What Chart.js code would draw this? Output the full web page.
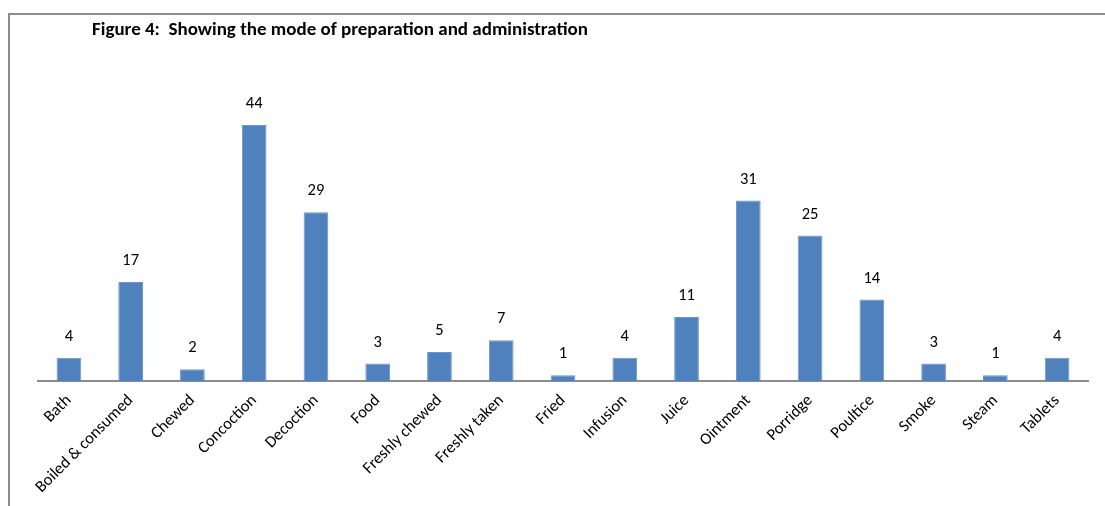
<!DOCTYPE html>
<html>
<head>
<meta charset="utf-8">
<script src="https://cdn.jsdelivr.net/npm/chart.js@4/dist/chart.umd.min.js"></script>
<style>
  html, body { margin: 0; padding: 0; background: #fff; }
  #wrap { position: relative; width: 1105px; height: 506px; }
  #frame { position: absolute; left: 8px; top: 13px; right: -10px; bottom: -10px;
           border-top: 2px solid #8c8c8c; border-left: 2px solid #8c8c8c; }
  canvas { position: absolute; left: 0; top: 0; }
</style>
</head>
<body>
<div id="wrap">
  <div id="frame"></div>
  <canvas id="chart" width="1105" height="506"></canvas>
</div>
<script>
const categories = ['Bath', 'Boiled & consumed', 'Chewed', 'Concoction', 'Decoction', 'Food',
  'Freshly chewed', 'Freshly taken', 'Fried', 'Infusion', 'Juice', 'Ointment', 'Porridge',
  'Poultice', 'Smoke', 'Steam', 'Tablets'];
const counts = [4, 17, 2, 44, 29, 3, 5, 7, 1, 4, 11, 31, 25, 14, 3, 1, 4];
const titleText = 'Figure 4:  Showing the mode of preparation and administration';

const fontFamily = "Carlito, Calibri, 'Open Sans', 'Liberation Sans', sans-serif";

// title + value labels
const extras = {
  id: 'extras',
  afterDatasetsDraw(chart) {
    const ctx = chart.ctx;
    ctx.save();
    ctx.fillStyle = '#000';
    ctx.font = 'bold 19px ' + fontFamily;
    ctx.textAlign = 'left';
    ctx.textBaseline = 'middle';
    ctx.fillText(titleText, 92, 30);

    ctx.font = '16.5px ' + fontFamily;
    ctx.textAlign = 'center';
    chart.getDatasetMeta(0).data.forEach((bar, i) => {
      ctx.fillText(String(counts[i]), bar.x, bar.y - 21);
    });
    ctx.restore();
  }
};

new Chart(document.getElementById('chart').getContext('2d'), {
  type: 'bar',
  data: {
    labels: categories,
    datasets: [{
      data: counts,
      backgroundColor: '#4f81bd',
      borderColor: '#6a95c8',
      borderWidth: 1,
      categoryPercentage: 1,
      barPercentage: 0.4
    }]
  },
  options: {
    responsive: false,
    animation: false,
    layout: { padding: { left: 38, right: 17, top: 90, bottom: 0 } },
    plugins: { legend: { display: false }, tooltip: { enabled: false } },
    scales: {
      x: {
        grid: { display: false },
        border: { display: true, color: '#8c8c8c', width: 2 },
        ticks: {
          minRotation: 45,
          maxRotation: 45,
          color: '#000',
          padding: 2,
          font: { size: 16.5, family: fontFamily }
        },
        afterFit(scale) { scale.height = 125; }
      },
      y: {
        display: false,
        min: 0,
        max: 50
      }
    }
  },
  plugins: [extras]
});
</script>
</body>
</html>
